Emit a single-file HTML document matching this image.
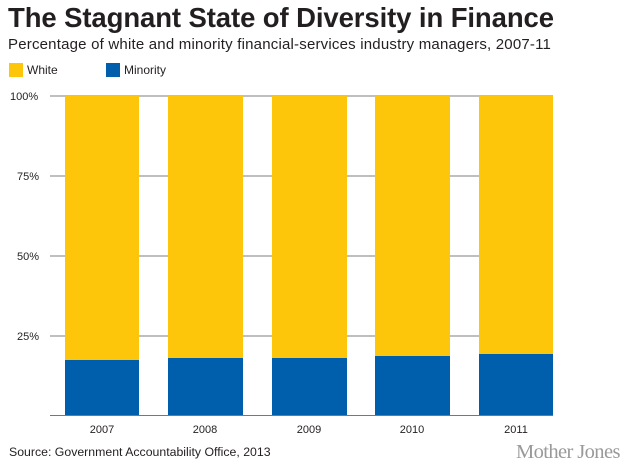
<!DOCTYPE html><html><head><style>
body{margin:0;width:630px;height:470px;background:#fff;position:relative;overflow:hidden;font-family:"Liberation Sans",sans-serif}
.a{position:absolute;white-space:nowrap}
</style></head><body>
<div class="a" style="left:8px;top:2px;font-size:27.5px;font-weight:bold;color:#231f20;letter-spacing:-0.1px">The Stagnant State of Diversity in Finance</div>
<div class="a" style="left:8px;top:36px;font-size:15px;color:#231f20;letter-spacing:0.2px">Percentage of white and minority financial-services industry managers, 2007-11</div>
<div class="a" style="left:9px;top:63px;width:14px;height:14px;background:#fec60b"></div>
<div class="a" style="left:27px;top:63px;font-size:12px;color:#231f20">White</div>
<div class="a" style="left:106px;top:63px;width:14px;height:14px;background:#005fad"></div>
<div class="a" style="left:124px;top:63px;font-size:12px;color:#231f20">Minority</div>
<svg class="a" style="left:0;top:0" width="630" height="470">
<g stroke="#999" stroke-width="1.3"><line x1="50" x2="553" y1="96" y2="96"/><line x1="50" x2="553" y1="176" y2="176"/><line x1="50" x2="553" y1="256" y2="256"/><line x1="50" x2="553" y1="336" y2="336"/></g>
<g fill="#fec60b"><rect x="65" y="96" width="74" height="320"/><rect x="168" y="96" width="75" height="320"/><rect x="272" y="96" width="75" height="320"/><rect x="375" y="96" width="75" height="320"/><rect x="479" y="96" width="74" height="320"/></g>
<g fill="#005fad"><rect x="65" y="360" width="74" height="56"/><rect x="168" y="358" width="75" height="58"/><rect x="272" y="358" width="75" height="58"/><rect x="375" y="356" width="75" height="60"/><rect x="479" y="354" width="74" height="62"/></g>
<line x1="50" x2="553" y1="415.5" y2="415.5" stroke="#777" stroke-width="1"/>
<g font-size="11" fill="#231f20" font-family="Liberation Sans"><text x="10" y="100">100%</text><text x="17" y="180">75%</text><text x="17" y="260">50%</text><text x="17" y="340">25%</text>
<g text-anchor="middle"><text x="102" y="433">2007</text><text x="205" y="433">2008</text><text x="309" y="433">2009</text><text x="412" y="433">2010</text><text x="516" y="433">2011</text></g></g>
</svg>
<div class="a" style="left:9px;top:445px;font-size:12.3px;color:#231f20">Source: Government Accountability Office, 2013</div>
<div class="a" style="left:516px;top:441px;font-size:20.5px;color:#999;font-family:'Liberation Serif',serif;letter-spacing:-0.6px">Mother Jones</div>
</body></html>
